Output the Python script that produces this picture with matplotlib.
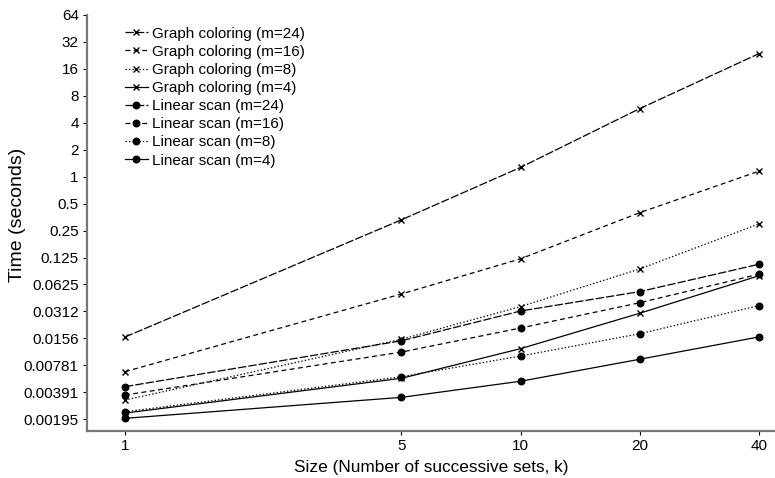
import matplotlib
matplotlib.use("Agg")
import matplotlib.pyplot as plt
from matplotlib.ticker import FixedLocator, FixedFormatter, NullLocator

plt.rcParams['font.family'] = ['Liberation Sans', 'DejaVu Sans']
plt.rcParams['lines.scale_dashes'] = False

k = [1, 5, 10, 20, 40]

graph_m24 = [0.0162, 0.33, 1.27, 5.75, 23.6]
graph_m16 = [0.00664, 0.049, 0.121, 0.396, 1.15]
graph_m8 = [0.0032, 0.0153, 0.0354, 0.093, 0.296]
graph_m4 = [0.00229, 0.0056, 0.012, 0.0298, 0.078]
linear_m24 = [0.00452, 0.0147, 0.0316, 0.052, 0.105]
linear_m16 = [0.00364, 0.011, 0.0204, 0.0391, 0.0813]
linear_m8 = [0.00237, 0.00583, 0.00993, 0.0176, 0.0362]
linear_m4 = [0.0020, 0.00343, 0.00519, 0.00913, 0.0162]

x_ticks = [1, 5, 10, 20, 40]
y_ticks = [2.0 ** e for e in range(-9, 7)]
y_tick_labels = ["0.00195", "0.00391", "0.00781", "0.0156", "0.0312", "0.0625",
                 "0.125", "0.25", "0.5", "1", "2", "4", "8", "16", "32", "64"]

series = [
    ("Graph coloring (m=24)", graph_m24, 'x', (0, (6, 1.5))),
    ("Graph coloring (m=16)", graph_m16, 'x', (0, (3.5, 2.5))),
    ("Graph coloring (m=8)", graph_m8, 'x', (0, (1, 1.5))),
    ("Graph coloring (m=4)", graph_m4, 'x', '-'),
    ("Linear scan (m=24)", linear_m24, 'o', (0, (6, 1.5))),
    ("Linear scan (m=16)", linear_m16, 'o', (0, (3.5, 2.5))),
    ("Linear scan (m=8)", linear_m8, 'o', (0, (1, 1.5))),
    ("Linear scan (m=4)", linear_m4, 'o', '-'),
]

W, H = 775, 478
fig = plt.figure(figsize=(W / 100, H / 100), dpi=100)
ax = fig.add_axes([86.7 / W, (H - 431) / H, (W - 86.7) / W, (431 - 15) / H])

for label, vals, mk, ls in series:
    ms = 5 if mk == 'x' else 4.7
    ax.plot(k, vals, linestyle=ls, color='black', linewidth=0.9,
            marker=mk, markersize=ms, markeredgewidth=1.0,
            markerfacecolor='black', markeredgecolor='black', label=label)

ax.set_xscale('log')
ax.set_yscale('log', base=2)
ax.set_xlim(0.8, 44)
ax.set_ylim(2.0 ** -9.436, 64)

ax.xaxis.set_major_locator(FixedLocator(x_ticks))
ax.xaxis.set_major_formatter(FixedFormatter([str(v) for v in x_ticks]))
ax.xaxis.set_minor_locator(NullLocator())
ax.yaxis.set_major_locator(FixedLocator(y_ticks))
ax.yaxis.set_major_formatter(FixedFormatter(y_tick_labels))
ax.yaxis.set_minor_locator(NullLocator())

for s in ['top', 'right']:
    ax.spines[s].set_visible(False)
for s in ['left', 'bottom']:
    ax.spines[s].set_color('#777777')
    ax.spines[s].set_linewidth(1.6)

ax.tick_params(axis='both', which='major', length=3, width=0.8, color='black',
               labelsize=11, pad=2.7, direction='out')

ax.set_xlabel("Size (Number of successive sets, k)", fontsize=12.4, labelpad=5)
ax.set_ylabel("Time (seconds)", fontsize=14)
ax.yaxis.set_label_coords((26 - 86.7) / (W - 86.7), (431 - 215) / (431 - 15))

leg = ax.legend(loc='upper left', bbox_to_anchor=(125 / W, 1 - 26.7 / H),
                bbox_transform=fig.transFigure, frameon=False, fontsize=11,
                borderpad=0, borderaxespad=0, handlelength=1.5,
                handletextpad=0.3, labelspacing=0.27, numpoints=1)

fig.savefig("out.png", dpi=100)
